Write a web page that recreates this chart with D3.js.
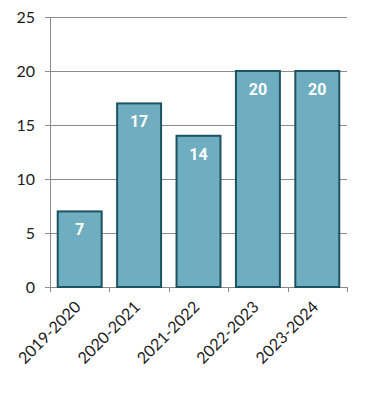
<!DOCTYPE html>
<html><head><meta charset="utf-8">
<script src="https://cdn.jsdelivr.net/npm/d3@7"></script>
<style>body{margin:0;background:#fff}</style>
</head><body>
<svg id="c" width="382" height="403"></svg>
<script>
const categories = ["2019-2020","2020-2021","2021-2022","2022-2023","2023-2024"];
const values = [7,17,14,20,20];
const yTicks = [0,5,10,15,20,25];

const svg = d3.select("#c");
const x0 = 50, x1 = 347, yTop = 17, yBot = 287;
const x = d3.scaleBand().domain(categories).range([x0,x1]).paddingInner(0.26).paddingOuter(0.13);
const y = d3.scaleLinear().domain([0,25]).range([yBot,yTop]);

// gridlines
svg.append("g").selectAll("line").data(yTicks).join("line")
  .attr("x1",x0-5).attr("x2",x1).attr("y1",d=>y(d)+0.5).attr("y2",d=>y(d)+0.5)
  .attr("stroke","#8c8c8c").attr("stroke-width",1);
// y axis line
svg.append("line").attr("x1",x0+0.5).attr("x2",x0+0.5).attr("y1",yTop).attr("y2",yBot+5)
  .attr("stroke","#8c8c8c");
// bottom ticks
const bounds = d3.range(categories.length+1).map(i=>x0+(x1-x0)*i/categories.length);
svg.append("g").selectAll("line").data(bounds).join("line")
  .attr("x1",d=>Math.round(d)+0.5).attr("x2",d=>Math.round(d)+0.5).attr("y1",yBot).attr("y2",yBot+5)
  .attr("stroke","#8c8c8c");
// y labels
svg.append("g").selectAll("text").data(yTicks).join("text")
  .attr("x",35).attr("y",d=>y(d)).attr("dy","0.36em").attr("text-anchor","end")
  .attr("font-family","Lato, sans-serif").attr("font-size",16).attr("fill","#1a1a1a")
  .text(d=>d);
// bars
svg.append("g").selectAll("rect").data(values).join("rect")
  .attr("x",(d,i)=>x(categories[i])).attr("width",x.bandwidth())
  .attr("y",d=>y(d)).attr("height",d=>y(0)-y(d))
  .attr("fill","#6FAEC0").attr("stroke","#1D5361").attr("stroke-width",2);
// value labels
svg.append("g").selectAll("text").data(values).join("text")
  .attr("x",(d,i)=>x(categories[i])+x.bandwidth()/2).attr("y",d=>y(d)+24)
  .attr("text-anchor","middle").attr("font-family","Roboto, sans-serif").attr("font-weight","bold")
  .attr("font-size",16).attr("fill","#fff").text(d=>d);
// x labels
svg.append("g").selectAll("text").data(categories).join("text")
  .attr("transform",d=>`translate(${x(d)+x.bandwidth()/2+2},${yBot+21}) rotate(-45)`)
  .attr("text-anchor","end").attr("font-family","Lato, sans-serif").attr("font-size",16).attr("fill","#1a1a1a")
  .text(d=>d);
</script>
</body></html>
